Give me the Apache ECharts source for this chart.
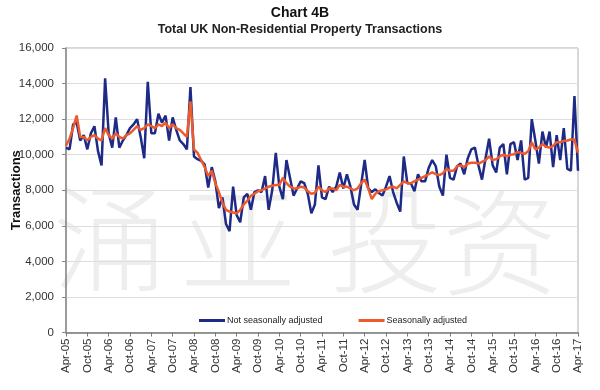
<!DOCTYPE html>
<html>
<head>
<meta charset="utf-8">
<script src="https://cdn.jsdelivr.net/npm/echarts@6/dist/echarts.min.js"></script>
<style>
html,body{margin:0;padding:0;background:#fff;}
#chart{width:600px;height:390px;}
</style>
</head>
<body>
<div id="chart"></div>
<script>
// Month names and the year span of the monthly series (Apr-05 .. Apr-17)
const monthNames = ['Jan','Feb','Mar','Apr','May','Jun','Jul','Aug','Sep','Oct','Nov','Dec'];
const startMonth = 3;   // April
const startYear = 2005;
const pointCount = 145;

// Not seasonally adjusted transactions (monthly, Apr-05 .. Apr-17)
const nsaValues = [
  10400,10300,11700,11800,10800,11100,10300,11200,11600,10200,9400,14300,
  11200,10400,12100,10400,10800,11100,11500,11700,12000,11000,9800,14100,
  11200,11200,12300,11800,12200,10800,12100,11400,10800,10600,10300,13800,
  9900,9750,9650,9450,8150,9300,8500,7000,7600,6100,5700,8200,
  6600,6200,7600,7800,6900,7900,8000,7900,8800,6900,8000,10100,
  8200,7500,9700,8700,7700,8100,8500,8400,7800,6700,7200,9400,
  7600,7500,8200,7900,8200,9000,8100,8900,8200,7200,6900,8300,
  9700,8100,7900,8050,7850,7700,8200,8800,7900,7300,6800,9900,
  8400,8400,7950,8900,8500,8500,9250,9700,9350,8200,7700,10000,
  8700,8600,9350,9500,8900,9800,10300,10400,9400,8600,9800,10900,
  9400,9000,10400,10600,8900,10600,10700,9700,10800,8600,8700,12000,
  10800,9500,11300,10400,11300,9300,11100,9700,11500,9200,9100,13300,
  9100
];

// Seasonally adjusted transactions (monthly, Apr-05 .. Apr-17)
const saValues = [
  10500,10900,11500,12200,11000,11000,10800,11000,11100,10900,10800,11500,
  11100,10900,11200,11000,10900,11100,11200,11400,11600,11400,11500,11700,
  11600,11500,11700,11600,11800,11500,11700,11500,11400,11200,11000,13000,
  10300,10100,9700,9300,8800,9100,8400,7900,7300,6900,6800,6750,
  6700,6900,7200,7400,7700,7800,7950,8000,8100,8200,8250,8300,
  8300,8700,8400,8200,8100,8100,8200,8150,7950,7800,7850,8200,
  8000,7900,8100,8100,8000,8300,8200,8200,8100,8000,8100,8400,
  8600,8100,7500,7800,7950,8000,8050,8150,8200,8100,8300,8500,
  8400,8400,8500,8600,8700,8800,8900,9000,8900,8850,8950,9200,
  9100,9100,9350,9400,9300,9500,9550,9550,9500,9600,9700,9900,
  9700,9750,9900,10000,9900,10000,10030,10150,10100,10050,10200,10700,
  10300,10400,10600,10450,10400,10500,10700,10700,10780,10800,10850,10850,
  10100
];

const seriesNames = ['Not seasonally adjusted', 'Seasonally adjusted'];
const watermarkChars = ['涌','亚','投','资'];

const categories = [];
for (let k = 0; k < pointCount; k++) {
  const m = (startMonth + k) % 12;
  const y = startYear + Math.floor((startMonth + k) / 12);
  categories.push(monthNames[m] + '-' + String(y % 100).padStart(2, '0'));
}

function fmt(v) {
  return String(v).replace(/\B(?=(\d{3})+(?!\d))/g, ',');
}

const wmPos = [[110, 238], [238, 240], [385, 240], [500, 242]];

const chart = echarts.init(document.getElementById('chart'), null, {renderer: 'canvas'});
chart.setOption({
  animation: false,
  backgroundColor: '#ffffff',
  title: {
    text: 'Chart 4B',
    subtext: 'Total UK Non-Residential Property Transactions',
    left: 'center',
    top: 1,
    itemGap: 3,
    textStyle: {fontFamily: 'Liberation Sans, Arial, sans-serif', fontSize: 14, fontWeight: 'bold', color: '#111'},
    subtextStyle: {fontFamily: 'Liberation Sans, Arial, sans-serif', fontSize: 12.5, fontWeight: 'bold', color: '#222'}
  },
  graphic: watermarkChars.map((ch, k) => ({
    type: 'text',
    silent: true,
    z: 0,
    x: wmPos[k][0],
    y: wmPos[k][1],
    style: {
      text: ch,
      font: '300 115px "Noto Sans CJK SC"',
      fill: 'rgba(0,0,0,0.065)',
      align: 'center',
      verticalAlign: 'middle'
    }
  })),
  legend: {
    data: seriesNames,
    left: 194,
    top: 311,
    icon: 'rect',
    itemWidth: 26,
    itemHeight: 3,
    itemGap: 36,
    textStyle: {fontFamily: 'Liberation Sans, Arial, sans-serif', fontSize: 9, color: '#222', padding: [0, 0, 0, -3]}
  },
  grid: {
    left: 66, right: 22, top: 48, bottom: 57.5,
    containLabel: false,
    outerBoundsMode: 'none',
    show: true, borderColor: '#b0b0b0', borderWidth: 1
  },
  xAxis: {
    type: 'category',
    data: categories,
    boundaryGap: false,
    axisLine: {lineStyle: {color: '#777', width: 1.5}},
    axisTick: {interval: 5, length: 4, lineStyle: {color: '#777'}},
    axisLabel: {
      interval: 5, rotate: 90, margin: 6,
      fontFamily: 'Liberation Sans, Arial, sans-serif', fontSize: 11.5, color: '#333'
    },
    splitLine: {show: false}
  },
  yAxis: {
    type: 'value',
    min: 0, max: 16000, interval: 2000,
    name: 'Transactions',
    nameLocation: 'middle',
    nameGap: 43,
    nameMoveOverlap: false,
    nameTextStyle: {fontFamily: 'Liberation Sans, Arial, sans-serif', fontSize: 13, fontWeight: 'bold', color: '#111'},
    axisLine: {show: true, lineStyle: {color: '#888', width: 1.5}},
    axisTick: {show: true, length: 4, lineStyle: {color: '#888'}},
    axisLabel: {
      margin: 12, formatter: fmt,
      fontFamily: 'Liberation Sans, Arial, sans-serif', fontSize: 11.5, color: '#333'
    },
    splitLine: {lineStyle: {color: '#dedede', width: 1}}
  },
  series: [
    {
      name: seriesNames[0], type: 'line', data: nsaValues,
      symbol: 'none', color: '#1d2a86',
      lineStyle: {width: 2.5, color: '#1d2a86'}, z: 3
    },
    {
      name: seriesNames[1], type: 'line', data: saValues,
      symbol: 'none', color: '#ee5a2c',
      lineStyle: {width: 2.5, color: '#ee5a2c'}, z: 4
    }
  ]
});
</script>
</body>
</html>
